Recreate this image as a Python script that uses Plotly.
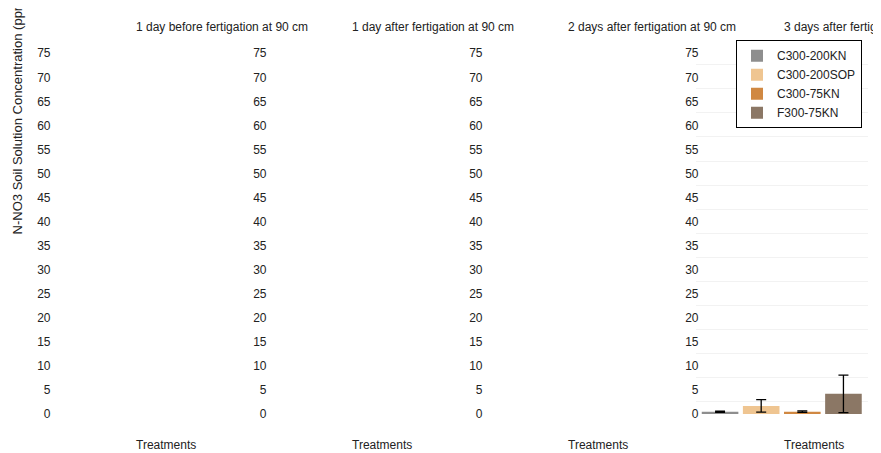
import plotly.graph_objects as go

W, H = 881, 453

panel_titles = [
    "1 day before fertigation at 90 cm",
    "1 day after fertigation at 90 cm",
    "2 days after fertigation at 90 cm",
    "3 days after fertigation at 90 cm",
]
treatments = ["C300-200KN", "C300-200SOP", "C300-75KN", "F300-75KN"]
colors = ["#8e8e8e", "#efc591", "#d08842", "#8b7765"]
# values only present for the 4th panel (3 days after fertigation)
values_day3 = [0.5, 1.7, 0.5, 4.2]
errors_day3 = [0.12, 1.3, 0.15, 3.9]
y_ticks = list(range(0, 80, 5))

FONT = "Liberation Sans, Arial, sans-serif"
TXT = "#222222"

# calibration between intended figure pixels and the photographed page
OX, OY, SY = 9.0, 14.8, 0.967

def px_x(p):
    return (p - OX) / W

def px_y(p):
    return 1 - ((p - OY) / SY) / H

fig = go.Figure()

# panel domains in (photographed) pixels
starts = [700.5 - 216 * (3 - k) for k in range(4)]
plot_w = 164.5
y_dom = [px_y(413), px_y(53)]

layout = {}
# subplot 4 only carries the faint gridlines of the last panel (drawn first)
layout["xaxis4"] = dict(
    domain=[px_x(697), px_x(869)], anchor="y4", range=[0, 1],
    showgrid=False, zeroline=False, showline=False, showticklabels=False,
    ticks="", fixedrange=True,
)
layout["yaxis4"] = dict(
    domain=y_dom, anchor="x4", range=[2.4, 77.4], tickvals=y_ticks,
    showgrid=True, gridcolor="#f2f2f2", gridwidth=1, showticklabels=False,
    zeroline=False, showline=False, ticks="", fixedrange=True,
)
fig.add_trace(go.Scatter(x=[], y=[], xaxis="x4", yaxis="y4",
                         showlegend=False, hoverinfo="skip"))

# panels 1-3 use axes 1-3, the last panel's data uses axis 5
axis_ids = ["", "2", "3", "5"]
for k, n in enumerate(axis_ids):
    layout["xaxis" + n] = dict(
        domain=[px_x(starts[k]), px_x(starts[k] + plot_w)],
        anchor="y" + n,
        showgrid=False, zeroline=False, showline=False, showticklabels=False,
        ticks="", fixedrange=True,
    )
    layout["yaxis" + n] = dict(
        domain=y_dom, anchor="x" + n, range=[0, 75],
        tickvals=y_ticks, showgrid=False, zeroline=False, showline=False,
        ticks="", tickfont=dict(size=12, color=TXT, family=FONT),
        ticklabelstandoff=0, fixedrange=True,
    )
    if k < 3:
        layout["xaxis" + n]["range"] = [0, 1]
        fig.add_trace(go.Scatter(x=[], y=[], xaxis="x" + n, yaxis="y" + n,
                                 showlegend=False, hoverinfo="skip"))

layout["xaxis5"]["type"] = "category"
layout["xaxis5"]["categoryarray"] = treatments

for t, v, e, c in zip(treatments, values_day3, errors_day3, colors):
    fig.add_trace(go.Bar(
        x=[t], y=[v], name=t, marker=dict(color=c, line=dict(width=0)),
        error_y=dict(type="data", array=[e], color="black", thickness=1.3, width=5),
        xaxis="x5", yaxis="y5",
    ))

annotations = []
for k in range(4):
    annotations.append(dict(
        text=panel_titles[k], xref="paper", yref="paper",
        x=px_x(135 + 216 * k), y=px_y(27), xanchor="left", yanchor="middle",
        showarrow=False, font=dict(size=12, color=TXT, family=FONT),
    ))
    annotations.append(dict(
        text="Treatments", xref="paper", yref="paper",
        x=px_x(135 + 216 * k), y=px_y(444), xanchor="left", yanchor="middle",
        showarrow=False, font=dict(size=12, color=TXT, family=FONT),
    ))
annotations.append(dict(
    text="N-NO3 Soil Solution Concentration (ppm)", xref="paper", yref="paper",
    x=px_x(18), y=px_y(115), xanchor="center", yanchor="middle", textangle=-90,
    showarrow=False, font=dict(size=13, color=TXT, family=FONT),
))

fig.update_layout(
    **layout,
    width=W, height=H,
    margin=dict(l=0, r=0, t=0, b=0),
    paper_bgcolor="white", plot_bgcolor="rgba(0,0,0,0)",
    barmode="relative", bargap=0.11,
    showlegend=True,
    legend=dict(
        x=px_x(863), y=px_y(40), xanchor="right", yanchor="top",
        bgcolor="white", bordercolor="black", borderwidth=1,
        font=dict(size=12, color=TXT, family=FONT),
        itemwidth=30, tracegroupgap=0,
    ),
    annotations=annotations,
    font=dict(family=FONT, color=TXT),
)

fig.write_html("out.html")
